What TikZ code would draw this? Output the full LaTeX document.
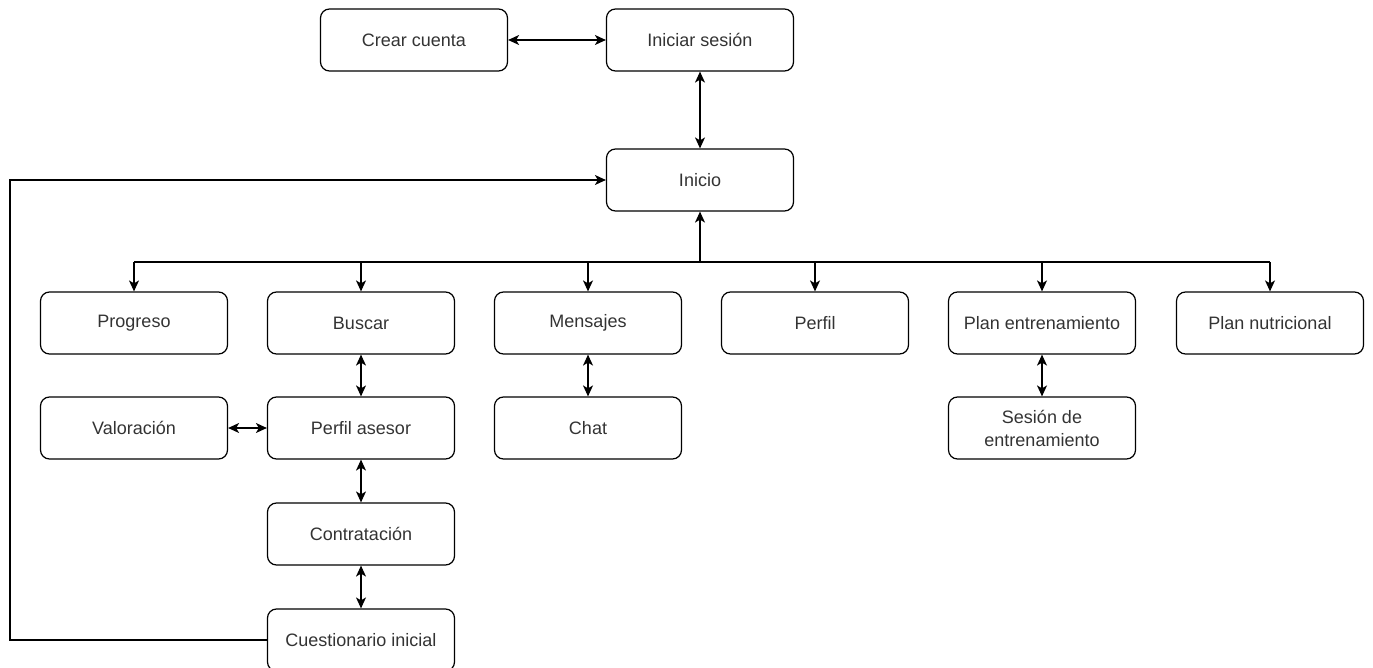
\documentclass[tikz,border=0pt]{standalone}
\usepackage{fontspec}
\setmainfont{Liberation Sans}
\usetikzlibrary{arrows.meta}
\begin{document}
\begin{tikzpicture}[x=1pt,y=-1pt,
  screen/.style={draw=black, line width=1.2pt, rounded corners=9pt,
    minimum width=187pt, minimum height=62pt, inner sep=0pt,
    align=center, text=black!80,
    font=\fontsize{18}{23}\selectfont},
  link/.style={line width=1.3pt, draw=black},
  tip/.style={-{Stealth[length=11pt,width=10pt,inset=3pt]}},
  both/.style={{Stealth[length=11pt,width=10pt,inset=3pt]}-{Stealth[length=11pt,width=10pt,inset=3pt]}}]
\useasboundingbox (0,0) rectangle (1373,668);

% login area
\node[screen] (crear)   at (414,40)  {Crear cuenta};
\node[screen] (iniciar) at (700,40)  {Iniciar sesión};
\node[screen] (inicio)  at (700,180) {Inicio};

% main menu
\node[screen] (progreso) at (134,323)  {Progreso};
\node[screen] (buscar)   at (361,323)  {Buscar};
\node[screen] (mensajes) at (588,323)  {Mensajes};
\node[screen] (perfil)   at (815,323)  {Perfil};
\node[screen] (plan)     at (1042,323) {Plan entrenamiento};
\node[screen] (nutri)    at (1270,323) {Plan nutricional};

% second level
\node[screen] (valor)  at (134,428)  {Valoración};
\node[screen] (asesor) at (361,428)  {Perfil asesor};
\node[screen] (chat)   at (588,428)  {Chat};
\node[screen] (sesion) at (1042,428) {Sesión de\\entrenamiento};

% hiring flow
\node[screen] (contrat) at (361,534) {Contratación};
\node[screen] (cuest)   at (361,640) {Cuestionario inicial};

% junction of the menu tree
\coordinate (hub) at (700,262);
\coordinate (jl) at (134,262);
\coordinate (jr) at (1270,262);
\coordinate (loopdown) at (10,640);
\coordinate (loopup) at (10,180);

\draw[link,both] (crear) -- (iniciar);
\draw[link,both] (iniciar) -- (inicio);

\draw[link,tip] (hub) -- (inicio);
\draw[link] (jl) -- (jr);
\foreach \n in {progreso,buscar,mensajes,perfil,plan,nutri}
  \draw[link,tip] (\n.north |- hub) -- (\n.north);

\draw[link,both] (buscar) -- (asesor);
\draw[link,both] (valor) -- (asesor);
\draw[link,both] (asesor) -- (contrat);
\draw[link,both] (contrat) -- (cuest);
\draw[link,both] (mensajes) -- (chat);
\draw[link,both] (plan) -- (sesion);

\draw[link,tip] (cuest.west) -- (loopdown) -- (loopup) -- (inicio.west);
\end{tikzpicture}
\end{document}
